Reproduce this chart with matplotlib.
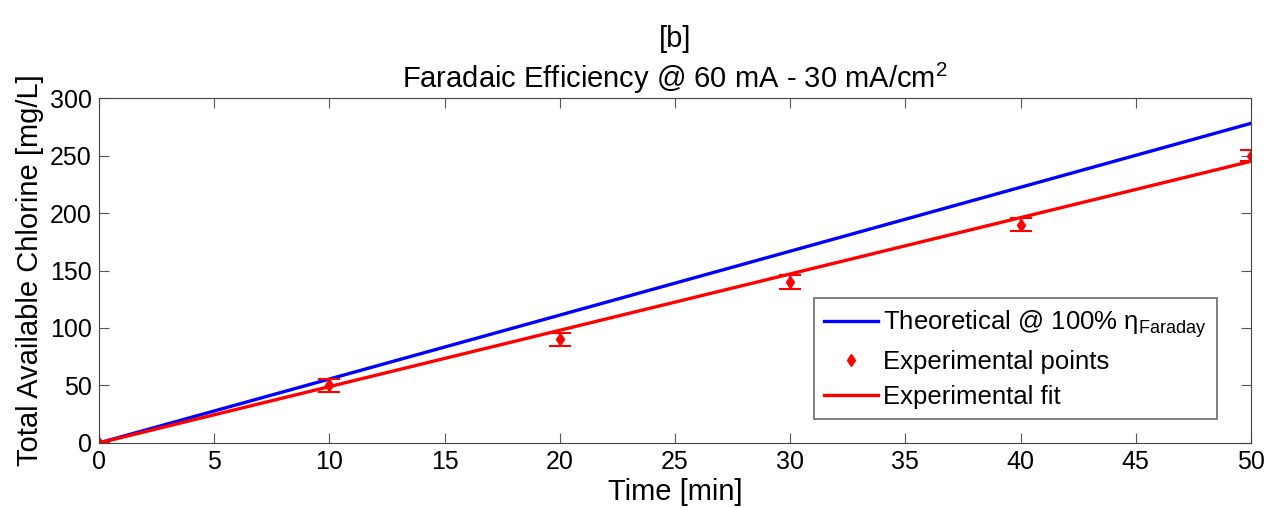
import matplotlib
matplotlib.use("Agg")
import matplotlib.pyplot as plt
import numpy as np

plt.rcParams["font.family"] = ["Liberation Sans", "DejaVu Sans"]
plt.rcParams["mathtext.fontset"] = "custom"
plt.rcParams["mathtext.rm"] = "Liberation Sans"
plt.rcParams["mathtext.it"] = "Liberation Sans"

# data
time_points = [0, 10, 20, 30, 40, 50]
chlorine_measured = [0, 50, 90, 140, 190, 250]
chlorine_err = [0, 6, 6, 6, 6, 5]
fit_x = [0, 50]
fit_y = [0, 245]
theory_x = [0, 50]
theory_y = [0, 278]

fig = plt.figure(figsize=(12.68, 5.08), dpi=100)
ax = fig.add_axes([0.078, 0.128, 0.9086, 0.679])

ax.plot(theory_x, theory_y, color="#0000ff", lw=2.4,
        label=r"Theoretical @ 100% $\eta_{\mathrm{Faraday}}$")
ax.errorbar(time_points, chlorine_measured, yerr=chlorine_err, fmt="none", ecolor="#ff0000",
            capsize=8, elinewidth=1.5, capthick=1.5)
ax.plot(time_points, chlorine_measured, ls="none", marker="d", ms=6.5, color="#ff0000",
        label="Experimental points")
ax.plot(fit_x, fit_y, color="#ff0000", lw=2.4, label="Experimental fit")

ax.set_xlim(0, 50)
ax.set_ylim(0, 300)
ax.set_xticks(np.arange(0, 51, 5))
ax.set_yticks(np.arange(0, 301, 50))
ax.tick_params(direction="in", length=7, top=True, right=True, labelsize=18,
               color="#555555", pad=5)
for spine in ax.spines.values():
    spine.set_color("#444444")

ax.set_xlabel("Time [min]", fontsize=21, labelpad=3)
ax.set_ylabel("Total Available Chlorine [mg/L]", fontsize=21, labelpad=4)
ax.set_title("[b]\nFaradaic Efficiency @ 60 mA - 30 mA/cm$^2$", fontsize=21, pad=7,
             linespacing=1.3)

leg = ax.legend(loc="lower right", bbox_to_anchor=(0.9705, 0.0696), borderaxespad=0,
                fontsize=18.5, frameon=True, fancybox=False, edgecolor="#444444",
                handlelength=2.1, handletextpad=0.2, borderpad=0.4, labelspacing=0.4)
leg.get_frame().set_linewidth(1.2)

fig.savefig("out.png", dpi=100)
